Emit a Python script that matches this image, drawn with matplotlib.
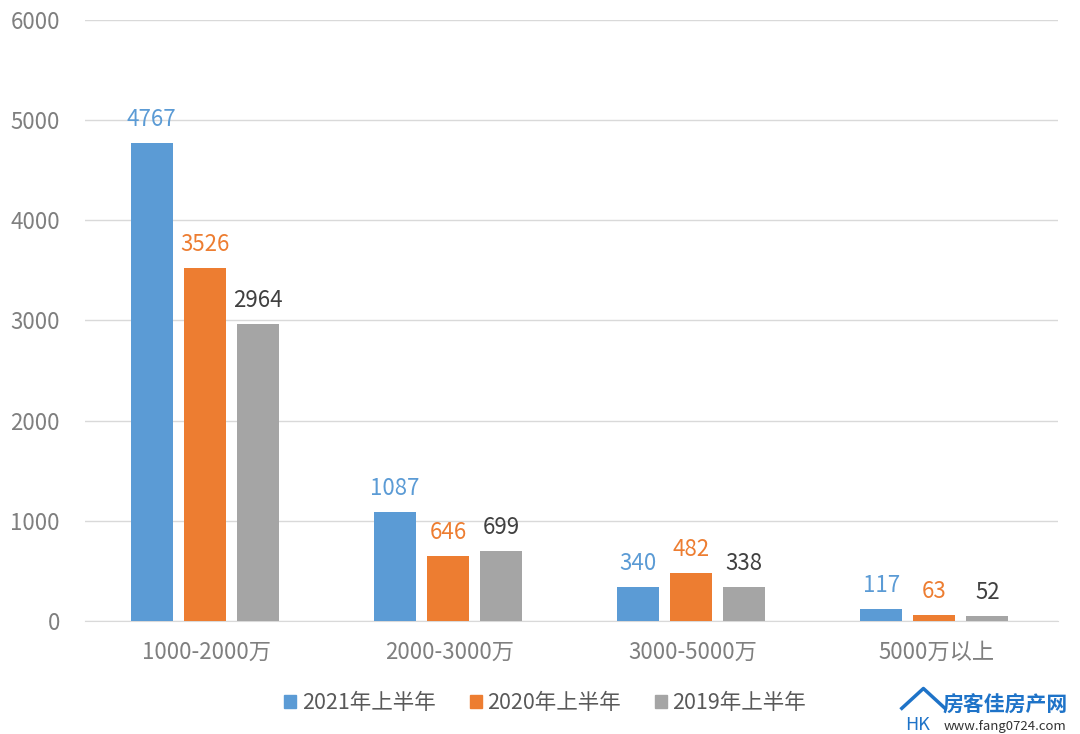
import numpy as np
import matplotlib
matplotlib.use('Agg')
import matplotlib.pyplot as plt
from matplotlib.lines import Line2D

plt.rcParams['font.family'] = ['Noto Sans CJK SC', 'DejaVu Sans']

categories = ['1000-2000万', '2000-3000万', '3000-5000万', '5000万以上']
series_names = ['2021年上半年', '2020年上半年', '2019年上半年']
v2021 = [4767, 1087, 340, 117]
v2020 = [3526, 646, 482, 63]
v2019 = [2964, 699, 338, 52]

colors = ['#5B9BD5', '#ED7D31', '#A5A5A5']
label_colors = ['#5B9BD5', '#ED7D31', '#404040']

fig = plt.figure(figsize=(10.8, 7.34), dpi=100)
ax = fig.add_axes([0.0787, 0.154, 0.9009, 0.8188])

x = np.arange(len(categories))
width = 0.173
offset = 0.218
for i, vals in enumerate([v2021, v2020, v2019]):
    pos = x + (i - 1) * offset - 0.008
    ax.bar(pos, vals, width, color=colors[i], label=series_names[i], zorder=3)
    for xp, v in zip(pos, vals):
        ax.text(xp, v + 120, str(v), ha='center', va='bottom', fontsize=16,
                color=label_colors[i])

ax.set_xlim(-0.5, 3.5)
ax.set_ylim(0, 6000)
ax.set_yticks(range(0, 6001, 1000))
ax.yaxis.grid(True, color='#D9D9D9', linewidth=1)
ax.set_axisbelow(True)
for s in ['top', 'right', 'left']:
    ax.spines[s].set_visible(False)
ax.spines['bottom'].set_color('#D9D9D9')
ax.tick_params(axis='both', length=0, labelsize=16, labelcolor='#7F7F7F')
ax.tick_params(axis='y', pad=18)
ax.tick_params(axis='x', pad=14)
ax.set_xticks(x)
ax.set_xticklabels(categories)

handles = [plt.Rectangle((0, 0), 1, 1, color=c) for c in colors]
fig.legend(handles, series_names, loc='center', bbox_to_anchor=(0.505, 0.042),
           ncol=3, frameon=False, fontsize=15.5, labelcolor='#595959',
           handlelength=0.55, handleheight=0.55, handletextpad=0.25, columnspacing=1.6)

# watermark
fig.text(0.873, 0.03, '房客佳房产网', fontsize=15, fontweight='bold', color='#1E73C8')
fig.text(0.874, 0.006, 'www.fang0724.com', fontsize=9.5, color='#333333')
fig.add_artist(Line2D([0.835, 0.855, 0.875], [0.035, 0.062, 0.035], color='#1E73C8', lw=2.5,
                      transform=fig.transFigure))
fig.text(0.838, 0.006, 'HK', fontsize=13, color='#1E73C8')

fig.savefig('out.png', dpi=100)
